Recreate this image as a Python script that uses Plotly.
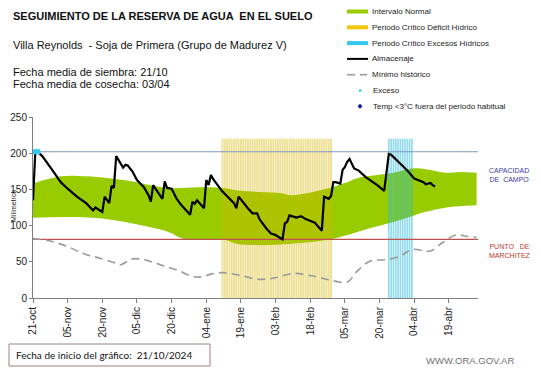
import pandas as pd
import plotly.graph_objects as go

START = "2024-10-21"

# Almacenaje (day offset from start date, mm)
storage_days = [0, 1, 2, 4, 9, 12, 15, 19, 23, 25, 26, 27, 29, 30, 31, 32, 33, 34, 35, 36, 37, 39, 40, 41,
                43, 45, 48, 50, 51, 52, 53, 56, 57, 58, 60, 62, 64, 68, 69, 70, 71, 72, 74, 75, 76, 77, 78,
                82, 87, 88, 89, 93, 95, 97, 98, 101, 103, 105, 108, 109, 110, 111, 114, 116, 118, 122, 125,
                126, 128, 129, 130, 131, 133, 134, 135, 136, 137, 139, 141, 144, 149, 152, 153, 154, 155,
                159, 162, 165, 169, 170, 172, 173, 174]
storage_mm = [135, 202, 202, 196, 174, 160, 151, 140, 131, 125, 121, 125, 121, 119, 140, 136, 131, 155, 152,
              196, 191, 180, 184, 183, 175, 163, 153, 142, 133, 156, 151, 137, 161, 152, 151, 138, 129, 115,
              133, 130, 135, 131, 124, 163, 156, 170, 164, 147, 131, 124, 140, 124, 117, 117, 109, 96, 89,
              87, 81, 103, 105, 114, 111, 113, 109, 104, 93, 140, 137, 141, 160, 160, 158, 177, 181, 188,
              192, 179, 176, 167, 156, 148, 172, 199, 198, 186, 176, 165, 160, 157, 159, 156, 154]

# Intervalo normal (upper and lower limits)
upper_days = [0, 12, 23, 43, 58, 72, 82, 90, 101, 107, 112, 127, 136, 141, 156, 164, 170, 179, 185, 192]
upper_mm = [158, 168, 168, 161, 152, 153, 152, 148, 146, 145, 142, 151, 160, 166, 173, 179, 178, 173, 174, 173]
lower_days = [0, 15, 29, 43, 58, 65, 72, 82, 88, 98, 112, 127, 136, 141, 156, 164, 170, 179, 192]
lower_mm = [111, 112, 110, 103, 92, 82, 80, 81, 75, 73, 75, 80, 87, 92, 105, 113, 119, 125, 128]

# Mínimo histórico
min_days = [0, 7, 15, 22, 29, 36, 38, 43, 48, 55, 62, 69, 73, 77, 82, 90, 97, 101, 105, 113, 120, 127,
            136, 140, 146, 153, 159, 164, 172, 177, 183, 188, 192]
min_mm = [82, 79, 71, 61, 55, 48, 46, 54, 53, 46, 39, 30, 29, 33, 35, 31, 26, 26, 28, 34, 31, 26,
          22, 36, 51, 53, 58, 67, 65, 76, 87, 85, 84]

# Exceso points
exceso_days = [1, 2]
exceso_mm = [202, 202]

# Critical periods (daily columns)
deficit_days = list(range(82, 130))
excess_days = list(range(154, 165))
critical_height = 220

# Reference levels
capacidad_campo = 202
punto_marchitez = 81

# X axis ticks
tick_days = [0, 15, 30, 45, 60, 75, 90, 105, 120, 135, 150, 165, 180]
tick_labels = ["21-oct", "05-nov", "20-nov", "05-dic", "20-dic", "04-ene", "19-ene", "03-feb",
               "18-feb", "05-mar", "20-mar", "04-abr", "19-abr"]
axis_end_day = 192.6

start = pd.Timestamp(START)


def to_dates(days):
    return [start + pd.Timedelta(days=d) for d in days]


def stripes(days, height):
    xs, ys = [], []
    for d in to_dates(days):
        xs += [d, d, None]
        ys += [0, height, None]
    return xs, ys


# page offset of the figure (body margin)
OFF = 8
# plot area in page pixels
L, R, T, B = 33, 478, 117, 298
W, H = 541 - OFF, 368 - OFF


def px(x):
    return (x - L) / (R - L)


def py(y):
    return (B - y) / (B - T)


FONT = "Arial, Liberation Sans, sans-serif"
GREEN = "#99cc00"
YELLOW_LEG = "#f2c80f"
CYAN_LEG = "#33c8ee"

fig = go.Figure()

# Intervalo normal band
fig.add_trace(go.Scatter(x=to_dates(lower_days), y=lower_mm, mode="lines", line=dict(width=0, shape="spline"),
                         showlegend=False, hoverinfo="skip"))
fig.add_trace(go.Scatter(x=to_dates(upper_days), y=upper_mm, mode="lines", line=dict(width=0, shape="spline"),
                         fill="tonexty", fillcolor=GREEN, showlegend=False, name="Intervalo Normal"))

# Critical periods as daily columns
xs, ys = stripes(deficit_days, critical_height)
fig.add_trace(go.Scatter(x=xs, y=ys, mode="lines", line=dict(color="rgba(215,180,0,0.42)", width=1.9),
                         showlegend=False, name="Periodo Crítico Déficit Hídrico"))
xs, ys = stripes(excess_days, critical_height)
fig.add_trace(go.Scatter(x=xs, y=ys, mode="lines", line=dict(color="rgba(40,185,220,0.5)", width=1.7),
                         showlegend=False, name="Periodo Crítico Excesos Hídricos"))

end_date = start + pd.Timedelta(days=axis_end_day)
fig.add_trace(go.Scatter(x=[start, end_date], y=[capacidad_campo] * 2, mode="lines",
                         line=dict(color="#7b98c8", width=1.2), showlegend=False, hoverinfo="skip"))
fig.add_trace(go.Scatter(x=[start, end_date], y=[punto_marchitez] * 2, mode="lines",
                         line=dict(color="#c0504d", width=1.2), showlegend=False, hoverinfo="skip"))

fig.add_trace(go.Scatter(x=to_dates(min_days), y=min_mm, mode="lines",
                         line=dict(color="#9a9a9a", width=1.6, dash="8px,5px", shape="spline"),
                         showlegend=False, name="Mínimo histórico"))
fig.add_trace(go.Scatter(x=to_dates(storage_days), y=storage_mm, mode="lines",
                         line=dict(color="black", width=2.2), showlegend=False, name="Almacenaje"))
fig.add_trace(go.Scatter(x=to_dates(exceso_days), y=exceso_mm, mode="markers",
                         marker=dict(color="#33ccee", size=5, symbol="square"), showlegend=False, name="Exceso"))

# ---- manual legend (layout decoration) ----
legend_items = ["Intervalo Normal", "Periodo Crítico Déficit Hídrico", "Periodo Crítico Excesos Hídricos",
                "Almacenaje", "Mínimo histórico", "Exceso", "Temp <3°C fuera del periodo habitual"]
shapes = []
annotations = []
row_y = [11.5 + 15.8 * i for i in range(len(legend_items))]
for i, (name, yy) in enumerate(zip(legend_items, row_y)):
    if i < 3:
        col = [GREEN, YELLOW_LEG, CYAN_LEG][i]
        shapes.append(dict(type="rect", xref="paper", yref="paper", x0=px(347), x1=px(368),
                           y0=py(yy + 2), y1=py(yy - 2), fillcolor=col, line=dict(width=0)))
    elif i == 3:
        shapes.append(dict(type="line", xref="paper", yref="paper", x0=px(347), x1=px(368),
                           y0=py(yy), y1=py(yy), line=dict(color="black", width=2)))
    elif i == 4:
        shapes.append(dict(type="line", xref="paper", yref="paper", x0=px(347), x1=px(355),
                           y0=py(yy), y1=py(yy), line=dict(color="#9a9a9a", width=1.6)))
        shapes.append(dict(type="line", xref="paper", yref="paper", x0=px(360), x1=px(367),
                           y0=py(yy), y1=py(yy), line=dict(color="#9a9a9a", width=1.6)))
    elif i == 5:
        shapes.append(dict(type="rect", xref="paper", yref="paper", x0=px(359), x1=px(361.5),
                           y0=py(yy + 1.2), y1=py(yy - 1.2), fillcolor="#33ccee", line=dict(width=0)))
    else:
        shapes.append(dict(type="path", xref="paper", yref="paper",
                           path=f"M {px(360)},{py(yy-2.5)} L {px(362.5)},{py(yy)} L {px(360)},{py(yy+2.5)} L {px(357.5)},{py(yy)} Z",
                           fillcolor="#1a1aa0", line=dict(width=0)))
    tx = 369.5 if i < 5 else 370.5
    annotations.append(dict(x=px(tx), y=py(yy), xref="paper", yref="paper", text=name, showarrow=False,
                            xanchor="left", yanchor="middle", font=dict(family=FONT, size=8, color="#222")))


# Titles and notes
def note(text, x, y, size=11, color="#111", bold=False, xanchor="left"):
    if bold:
        text = f"<b>{text}</b>"
    annotations.append(dict(x=px(x), y=py(y), xref="paper", yref="paper", text=text, showarrow=False,
                            xanchor=xanchor, yanchor="middle", font=dict(family=FONT, size=size, color=color)))


note("SEGUIMIENTO DE LA RESERVA DE AGUA  EN EL SUELO", 11, 16, size=11, bold=True)
note("Villa Reynolds  - Soja de Primera (Grupo de Madurez V)", 11, 45, size=11)
note("Fecha media de siembra: 21/10", 11, 72, size=11)
note("Fecha media de cosecha: 03/04", 11, 84, size=11)
note("CAPACIDAD<br>DE  CAMPO", 487, 175, size=7, color="#3a3aa8")
note("PUNTO   DE<br>MARCHITEZ", 487, 251, size=7, color="#c0392b")
note("WWW.ORA.GOV.AR", 470, 360, size=9.5, color="#707070", xanchor="center")
annotations.append(dict(x=px(13), y=py(206), xref="paper", yref="paper", text="Milímetros", showarrow=False,
                        textangle=-90, xanchor="center", yanchor="middle",
                        font=dict(family=FONT, size=7, color="#222")))
annotations.append(dict(x=px(14), y=py(355), xref="paper", yref="paper",
                        text="Fecha de inicio del gráfico:&nbsp;&nbsp;21/10/2024", showarrow=False,
                        xanchor="left", yanchor="middle", font=dict(family="Lato, sans-serif", size=10, color="#111")))
shapes.append(dict(type="rect", xref="paper", yref="paper", x0=px(9), x1=px(210), y0=py(366), y1=py(344),
                   line=dict(color="#a08080", width=1), fillcolor="rgba(0,0,0,0)"))

fig.update_layout(
    width=W, height=H,
    margin=dict(l=L - OFF, r=W - (R - OFF), t=T - OFF, b=H - (B - OFF)),
    paper_bgcolor="white", plot_bgcolor="white",
    showlegend=False,
    shapes=shapes, annotations=annotations,
    font=dict(family=FONT, size=10, color="#222"),
)
fig.update_xaxes(range=[start, end_date], tickvals=to_dates(tick_days), ticktext=tick_labels,
                 tickangle=-90, showgrid=False, zeroline=False, showline=True, linecolor="#808080",
                 linewidth=1, ticks="outside", ticklen=4, tickcolor="#808080", automargin=False,
                 tickfont=dict(family=FONT, size=10, color="#222"))
fig.update_yaxes(range=[0, 250], tickvals=[0, 50, 100, 150, 200, 250], showgrid=False, zeroline=False,
                 showline=True, linecolor="#808080", linewidth=1, ticks="outside", ticklen=3,
                 tickcolor="#808080", automargin=False,
                 tickfont=dict(family=FONT, size=10, color="#222"))

fig.write_html("out.html")
